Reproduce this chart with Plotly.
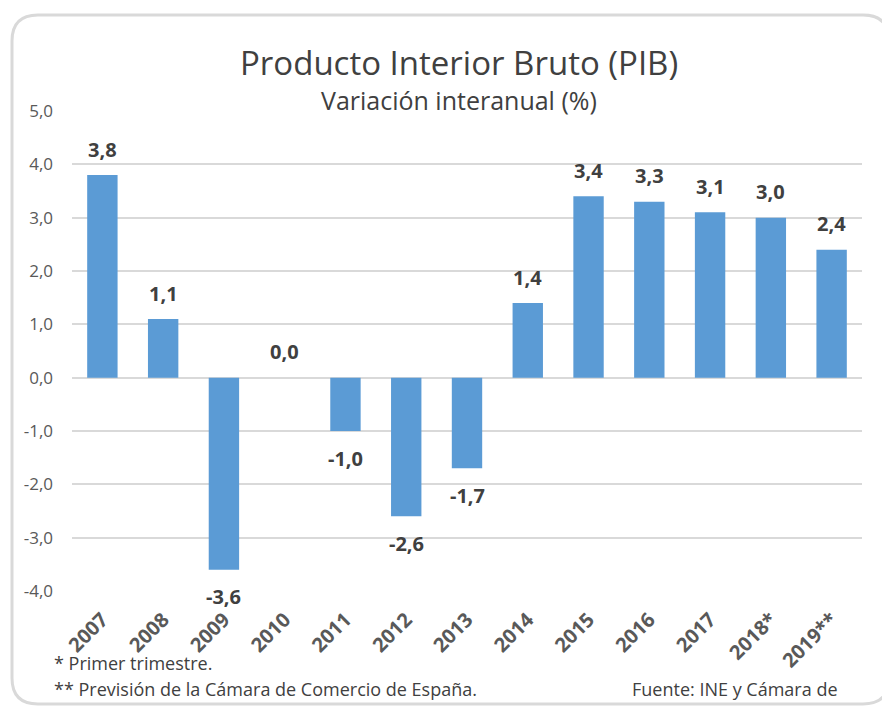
import plotly.graph_objects as go

categories = ["2007", "2008", "2009", "2010", "2011", "2012", "2013",
              "2014", "2015", "2016", "2017", "2018*", "2019**"]
values = [3.8, 1.1, -3.6, 0.0, -1.0, -2.6, -1.7, 1.4, 3.4, 3.3, 3.1, 3.0, 2.4]
y_tickvals = [-4, -3, -2, -1, 0, 1, 2, 3, 4, 5]
y_ticktext = ["-4,0", "-3,0", "-2,0", "-1,0", "0,0", "1,0", "2,0", "3,0", "4,0", "5,0"]

title_text = "Producto Interior Bruto (PIB)"
subtitle_text = "Variación interanual (%)"
note1 = "* Primer trimestre."
note2 = "** Previsión de la Cámara de Comercio de España."
source_text = "Fuente: INE y Cámara de"

W, H = 890, 706
OFF = 8  # page body margin
# plot area in screen pixels: x 72..862, y 111..591
SL, SR, ST, SB = 72, 862, 111, 591
L, T = SL - OFF, ST - OFF
R, B = W - (SR - OFF), H - (SB - OFF)
PW, PH = SR - SL, SB - ST

def px(x):
    return (x - SL) / PW

def py(y):
    return (SB - y) / PH

FONT = "'Open Sans', sans-serif"

fig = go.Figure()
fig.add_trace(go.Bar(
    x=list(range(len(categories))), y=values,
    marker=dict(color="#5B9BD5", line=dict(width=0)),
    hoverinfo="skip",
))

annotations = []
for i, v in enumerate(values):
    annotations.append(dict(
        x=i, y=v, xref="x", yref="y",
        text=f"<b>{v:.1f}</b>".replace(".", ","),
        showarrow=False, yanchor="middle",
        yshift=26 if v >= 0 else -27,
        font=dict(family=FONT, size=20, color="#404040"),
    ))

annotations += [
    dict(x=px(459), y=py(62), xref="paper", yref="paper", text=title_text,
         showarrow=False, xanchor="center", yanchor="middle",
         font=dict(family=FONT, size=33, color="#404040")),
    dict(x=px(459), y=py(100), xref="paper", yref="paper", text=subtitle_text,
         showarrow=False, xanchor="center", yanchor="middle",
         font=dict(family=FONT, size=25, color="#404040")),
    dict(x=px(52), y=py(663), xref="paper", yref="paper", text=note1,
         showarrow=False, xanchor="left", yanchor="middle",
         font=dict(family=FONT, size=18, color="#404040")),
    dict(x=px(52), y=py(689), xref="paper", yref="paper", text=note2,
         showarrow=False, xanchor="left", yanchor="middle",
         font=dict(family=FONT, size=18, color="#404040")),
    dict(x=px(630), y=py(689), xref="paper", yref="paper", text=source_text,
         showarrow=False, xanchor="left", yanchor="middle",
         font=dict(family=FONT, size=18, color="#404040")),
]

# rounded border (screen pixels)
x0, y0, x1, y1, r = 12, 15, 889, 704, 26
path = (
    f"M {px(x0)},{py(y0 + r)} "
    f"Q {px(x0)},{py(y0)} {px(x0 + r)},{py(y0)} "
    f"L {px(x1 - r)},{py(y0)} "
    f"Q {px(x1)},{py(y0)} {px(x1)},{py(y0 + r)} "
    f"L {px(x1)},{py(y1 - r)} "
    f"Q {px(x1)},{py(y1)} {px(x1 - r)},{py(y1)} "
    f"L {px(x0 + r)},{py(y1)} "
    f"Q {px(x0)},{py(y1)} {px(x0)},{py(y1 - r)} Z"
)
shapes = [dict(type="path", xref="paper", yref="paper", path=path,
               line=dict(color="#D9D9D9", width=3), layer="below")]

fig.update_layout(
    width=W, height=H,
    margin=dict(l=L, r=R, t=T, b=B),
    paper_bgcolor="white", plot_bgcolor="white",
    showlegend=False,
    bargap=0.5,
    annotations=annotations,
    shapes=shapes,
    font=dict(family=FONT, color="#595959"),
)
fig.update_xaxes(
    range=[-0.5, len(categories) - 0.5],
    tickvals=list(range(len(categories))), ticktext=categories,
    tickangle=-45,
    tickfont=dict(family=FONT, size=20, color="#595959", weight="bold"),
    showgrid=False, showline=False, zeroline=False, ticks="",
    ticklabelstandoff=12,
)
fig.update_yaxes(
    range=[-4, 5],
    tickvals=y_tickvals, ticktext=y_ticktext,
    tickfont=dict(family=FONT, size=17, color="#595959"),
    showgrid=True, gridcolor="#D9D9D9", gridwidth=1.5,
    zeroline=True, zerolinecolor="#D9D9D9", zerolinewidth=1.5,
    showline=False, ticks="", ticklabelstandoff=18,
)

fig.write_html("out.html")
